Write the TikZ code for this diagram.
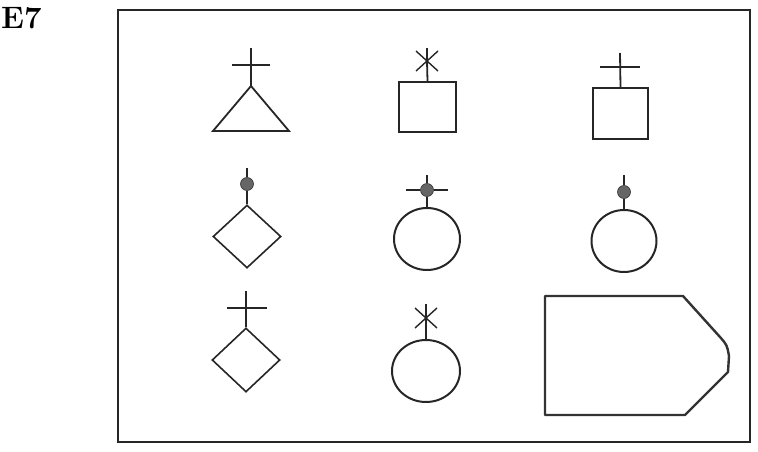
\documentclass[tikz,border=0pt]{standalone}
\usepackage{fontspec}
\usepackage{tikz}
\usetikzlibrary{shapes.geometric}
\begin{document}
\begin{tikzpicture}[x=1pt,y=-1pt,
  ln/.style={line width=1.8pt,black!85},
  thin/.style={line width=1.4pt,black!85},
  dotnode/.style={circle,fill=black!60,draw=black!80,line width=0.6pt,inner sep=0pt,minimum size=13pt},
  sqnode/.style={rectangle,draw=black!85,line width=2pt,inner sep=0pt},
  ovnode/.style={ellipse,draw=black!85,line width=2pt,inner sep=0pt},
  dmnode/.style={diamond,draw=black!85,line width=1.6pt,inner sep=0pt},
  lab/.style={inner sep=0pt,anchor=north west,font=\fontsize{31}{31}\selectfont\bfseries}]
\useasboundingbox (0,0) rectangle (758,452);
\node[lab] (title) at (1,7) {E7};
\node[draw=black!85,line width=2.3pt,inner sep=0pt,minimum width=632pt,minimum height=432pt,anchor=north west] (box) at (117,9) {};

% 1: triangle with cross
\coordinate (t1a) at (251,86);
\coordinate (t1l) at (213,131);
\coordinate (t1r) at (289,131);
\draw[ln,line join=miter] (t1a) -- (t1r) -- (t1l) -- cycle;
\coordinate (c1top) at (251,48);
\coordinate (c1l) at (232,65);
\coordinate (c1r) at (270,65);
\draw[ln] (c1top) -- (t1a);
\draw[ln] (c1l) -- (c1r);

% 2: square with asterisk
\node[sqnode,minimum width=57pt,minimum height=50pt] (sq1) at (427.5,107) {};
\coordinate (a2c) at (427,61);
\draw[ln] (a2c) -- (sq1.north);
\draw[thin] (427,48) -- (a2c);
\draw[thin] (416,51) -- (438,71);
\draw[thin] (416,71) -- (438,51);

% 3: square with cross
\node[sqnode,minimum width=55pt,minimum height=51pt] (sq2) at (620.5,113.5) {};
\coordinate (c3top) at (620,53);
\coordinate (c3l) at (600,67);
\coordinate (c3r) at (640,67);
\draw[ln] (c3top) -- (sq2.north);
\draw[ln] (c3l) -- (c3r);

% 4: diamond with dot
\node[dmnode,minimum width=68pt,minimum height=63pt] (dm1) at (247,236.5) {};
\coordinate (d4top) at (247,168);
\node[dotnode] (dot4) at (247,184) {};
\draw[thin] (d4top) -- (dot4);
\draw[ln] (dot4) -- (dm1.north);

% 5: circle with dot and bar
\node[ovnode,minimum width=66pt,minimum height=62pt] (ov1) at (427,239) {};
\node[dotnode] (dot5) at (427,190) {};
\coordinate (d5top) at (427,175);
\coordinate (d5l) at (406,190);
\coordinate (d5r) at (448,190);
\draw[ln] (d5l) -- (dot5) -- (d5r);
\draw[thin] (d5top) -- (dot5);
\draw[ln] (dot5) -- (ov1.north);

% 6: circle with dot
\node[ovnode,minimum width=65pt,minimum height=62pt] (ov2) at (624,241) {};
\node[dotnode] (dot6) at (624,192) {};
\coordinate (d6top) at (624,175);
\draw[thin] (d6top) -- (dot6);
\draw[ln] (dot6) -- (ov2.north);

% 7: diamond with cross
\node[dmnode,minimum width=68pt,minimum height=64pt] (dm2) at (246,360) {};
\coordinate (c7top) at (246,291);
\coordinate (c7l) at (227,308);
\coordinate (c7r) at (267,308);
\draw[ln] (c7top) -- (dm2.north);
\draw[ln] (c7l) -- (c7r);

% 8: circle with asterisk
\node[ovnode,minimum width=68pt,minimum height=62pt] (ov3) at (426,371) {};
\coordinate (a8c) at (426,318);
\draw[ln] (a8c) -- (ov3.north);
\draw[thin] (426,304) -- (a8c);
\draw[thin] (415,308) -- (437,328);
\draw[thin] (415,328) -- (437,308);

% 9: tag shape
\coordinate (p1) at (545,296);
\coordinate (p2) at (683,296);
\coordinate (p3) at (720,337);
\coordinate (p4) at (729,356);
\coordinate (p5) at (728,372);
\coordinate (p6) at (685,415);
\coordinate (p7) at (545,415);
\draw[line width=2.4pt,black!80,line join=round] (p1) -- (p2) -- (p3) .. controls (727,345) .. (p4) -- (p5) -- (p6) -- (p7) -- cycle;
\end{tikzpicture}
\end{document}
